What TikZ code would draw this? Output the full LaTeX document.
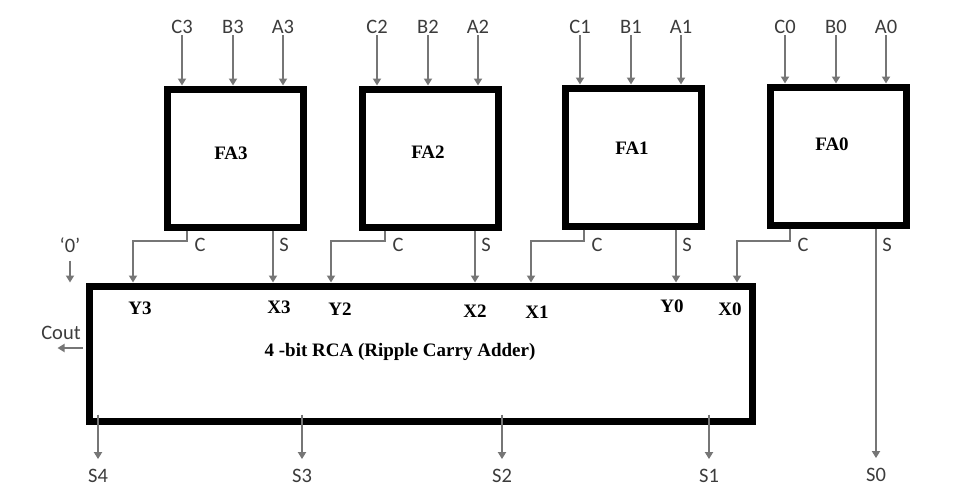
\documentclass[tikz,border=0pt]{standalone}
\usepackage{fontspec}
\setmainfont{Liberation Serif}
\newfontfamily\pinfont{Carlito}
\usepackage{tikz}
\usetikzlibrary{arrows.meta,calc,positioning}
\definecolor{wiregray}{RGB}{118,118,118}
\definecolor{pingray}{RGB}{60,60,60}

\begin{document}
\begin{tikzpicture}[x=1pt,y=-1pt,
	box/.style={draw,line width=7pt,minimum width=136pt,minimum height=138pt,inner sep=0pt},
	wire/.style={draw=wiregray,line width=2pt,-{Triangle[width=8pt,length=7pt]}},
	pin/.style={font=\pinfont\fontsize{20.5}{24}\selectfont,text=pingray,inner sep=1pt},
	tag/.style={font=\fontsize{19}{22}\selectfont\bfseries,inner sep=1pt}]
	\useasboundingbox (0,0) rectangle (964,501);

	\foreach \n/\x/\y/\tx/\ty in {3/235/158/231/153,2/430/158/428/152,1/633/157/632/148,0/838/156/832/144} {
		\node[box] (fa\n) at (\x,\y) {};
		\node[tag] (t\n) at (\tx,\ty) {FA\n};
		\foreach \s/\dx in {C/-53,B/-2,A/48} {
			\node[pin] (\s\n) at (\x+\dx,27) {\s\n};
			\draw[wire] (\s\n.south) -- (\s\n.south |- fa\n.north);
		}
	}

	\node[box,minimum width=663pt,minimum height=135pt] (rca) at (420.5,353.5) {};
	\node[tag] (rcatext) at (400,352) {4 -bit RCA (Ripple Carry Adder)};

	\foreach \n/\co/\ci/\so in {3/187/133/273,2/385/331/475,1/584/531/676,0/790/737/876} {
		\draw[wire] (fa\n.south -| \co,0) |- (\ci,241) -- (\ci,0 |- rca.north);
		\node[pin] (cl\n) at (\co+13,245) {C};
		\node[pin] (sl\n) at (\so+11,245) {S};
	}
	\foreach \n/\so in {3/273,2/475,1/676}
		\draw[wire] (fa\n.south -| \so,0) -- (\so,0 |- rca.north);

	\foreach \t/\x/\y in {Y3/140/308,X3/279/307,Y2/340/309,X2/475/311,X1/537/312,Y0/672/306,X0/730/309}
		\node[tag] (\t) at (\x,\y) {\t};

	\node[pin] (zero) at (70,245) {‘0’};
	\draw[wire,shorten <=7pt] (zero.south) -- (zero.south |- rca.north);
	\node[pin] (cout) at (61,333) {Cout};
	\draw[wire] ($(rca.west)+(-3,-5.5)$) -- ++(-25,0);

	\foreach \n/\x in {4/98,3/302,2/502,1/709} {
		\node[pin] (S\n) at (\x,476) {S\n};
		\draw[wire,shorten >=9pt] ($(S\n.north |- rca.south)+(0,-10)$) -- (S\n.north);
	}
	\node[pin] (S0) at (876,475) {S0};
	\draw[wire,shorten >=9pt] (fa0.south -| S0.north) -- (S0.north);
\end{tikzpicture}
\end{document}
